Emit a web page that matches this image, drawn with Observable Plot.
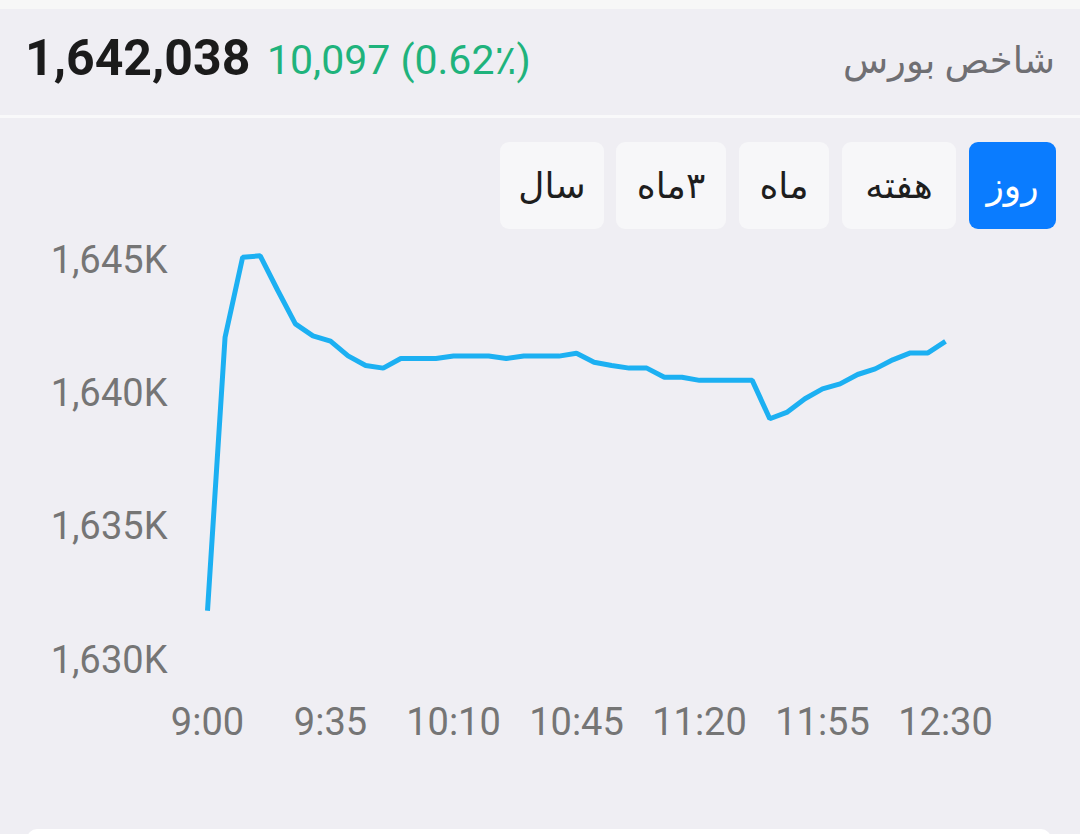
<!DOCTYPE html>
<html lang="fa">
<head>
<meta charset="utf-8">
<script src="https://cdn.jsdelivr.net/npm/d3@7"></script>
<script src="https://cdn.jsdelivr.net/npm/@observablehq/plot@0.6"></script>
<style>
  html, body { margin: 0; padding: 0; }
  body {
    width: 1080px; height: 834px; overflow: hidden; position: relative;
    background: #efeef3; font-family: Roboto, "DejaVu Sans", sans-serif;
  }
  #topstrip { position: absolute; left: 0; top: 0; width: 1080px; height: 9px; background: #f7f7f7; }
  #sep { position: absolute; left: 0; top: 115px; width: 1080px; height: 3px; background: #f9f9fa; }
  #price { position: absolute; left: 25px; top: 26px; font-size: 50px; font-weight: 700; color: #1b1b1b; line-height: 64px; }
  #change { position: absolute; left: 267px; top: 30px; font-size: 41px; color: #1fb37c; line-height: 60px; }
  #title { position: absolute; right: 25px; top: 31px; font-size: 37px; color: #6f6f73; line-height: 60px; direction: rtl; }
  .btn {
    position: absolute; top: 142px; height: 87px; border-radius: 9px; background: #f7f7f9;
    display: flex; align-items: center; justify-content: center; font-size: 36px; color: #1e1e1e; direction: rtl;
  }
  .btn.active { background: #0a7cff; color: #fff; }
  #chart { position: absolute; left: 0; top: 229px; }
  #card { position: absolute; left: 27px; top: 829px; width: 1024px; height: 40px; background: #fff; border-radius: 10px; }
</style>
</head>
<body>
<div id="topstrip"></div>
<div id="price"></div>
<div id="change"></div>
<div id="title"></div>
<div id="sep"></div>
<div id="buttons"></div>
<div id="chart"></div>
<div id="card"></div>
<script>
// ---- data ----
const titleText = "شاخص بورس";
const lastPrice = "1,642,038";
const changeText = "10,097 (0.62٪)";
const periods = ["روز", "هفته", "ماه", "۳ماه", "سال"];
const activePeriod = "روز";

const times = ["9:00","9:05","9:10","9:15","9:20","9:25","9:30","9:35","9:40","9:45","9:50","9:55",
  "10:00","10:05","10:10","10:15","10:20","10:25","10:30","10:35","10:40","10:45","10:50","10:55",
  "11:00","11:05","11:10","11:15","11:20","11:25","11:30","11:35","11:40","11:45","11:50","11:55",
  "12:00","12:05","12:10","12:15","12:20","12:25","12:30"];
const values = [1631.94,1642.2,1645.2,1645.25,1643.95,1642.7,1642.25,1642.05,1641.5,1641.14,1641.04,1641.4,
  1641.4,1641.4,1641.49,1641.49,1641.49,1641.4,1641.49,1641.49,1641.49,1641.6,1641.26,1641.14,
  1641.04,1641.04,1640.7,1640.7,1640.58,1640.58,1640.58,1640.58,1639.14,1639.39,1639.89,1640.26,
  1640.45,1640.8,1641.01,1641.35,1641.61,1641.61,1642.04];
const xTickLabels = ["9:00","9:35","10:10","10:45","11:20","11:55","12:30"];
const yTicks = [1630, 1635, 1640, 1645];

// ---- header ----
document.getElementById("title").textContent = titleText;
document.getElementById("price").textContent = lastPrice;
document.getElementById("change").textContent = changeText;

const btnBoxes = [[969, 87], [842, 114], [739, 90], [616, 110], [500, 104]];
const bc = document.getElementById("buttons");
periods.forEach((p, i) => {
  const d = document.createElement("div");
  d.className = "btn" + (p === activePeriod ? " active" : "");
  d.style.left = btnBoxes[i][0] + "px";
  d.style.width = btnBoxes[i][1] + "px";
  d.textContent = p;
  bc.appendChild(d);
});

// ---- chart ----
const toMin = t => { const [h, m] = t.split(":").map(Number); return (h - 9) * 60 + m; };
const data = times.map((t, i) => ({ m: toMin(t), v: values[i] }));
const labelByMin = new Map(times.map(t => [toMin(t), t]));

const chart = Plot.plot({
  width: 1080,
  height: 531,
  marginTop: 33,
  marginBottom: 98,
  marginLeft: 207,
  marginRight: 135,
  style: { background: "transparent", fontFamily: "Roboto, sans-serif", fontSize: "38px", color: "#757575" },
  x: { type: "linear", domain: [0, 210], label: null },
  y: { domain: [1630, 1645], label: null },
  marks: [
    Plot.axisX({ ticks: xTickLabels.map(toMin), tickFormat: m => labelByMin.get(m), tickSize: 0, tickPadding: 46, label: null }),
    Plot.axisY({ ticks: yTicks, tickFormat: v => d3.format(",")(v) + "K", tickSize: 0, tickPadding: 40, label: null, dy: -2 }),
    Plot.line(data, { x: "m", y: "v", stroke: "#1cb0f2", strokeWidth: 5, strokeLinejoin: "miter", strokeLinecap: "butt" })
  ]
});
document.getElementById("chart").appendChild(chart);
</script>
</body>
</html>
